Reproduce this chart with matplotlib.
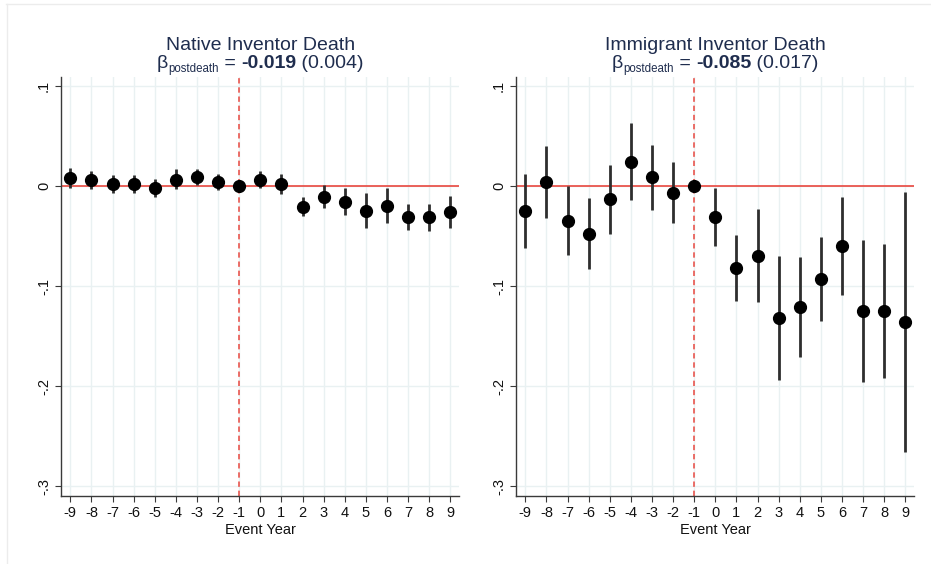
import matplotlib
matplotlib.use("Agg")
import matplotlib.pyplot as plt
from matplotlib.lines import Line2D

plt.rcParams['font.family'] = ['Liberation Sans', 'DejaVu Sans']

event_years = [-9, -8, -7, -6, -5, -4, -3, -2, -1, 0, 1, 2, 3, 4, 5, 6, 7, 8, 9]
xtick_labels = [str(v) for v in event_years]
ytick_values = [0.1, 0, -0.1, -0.2, -0.3]
ytick_labels = ['.1', '0', '-.1', '-.2', '-.3']

# Native inventors: point estimates and 95% CI bounds
native_coef = [0.0083, 0.0060, 0.0020, 0.0020, -0.0023, 0.0063, 0.0090, 0.0037, 0.0,
               0.0063, 0.0020, -0.0207, -0.0110, -0.0157, -0.0247, -0.0200, -0.0313, -0.0313, -0.0257]
native_hi = [0.0177, 0.0153, 0.0110, 0.0110, 0.0067, 0.0167, 0.0173, 0.0117, 0.0,
             0.0147, 0.0120, -0.0107, 0.0007, -0.0023, -0.0073, -0.0023, -0.0183, -0.0177, -0.0100]
native_lo = [-0.0017, -0.0033, -0.0073, -0.0073, -0.0107, -0.0033, 0.0007, -0.0040, 0.0,
             -0.0017, -0.0080, -0.0300, -0.0223, -0.0290, -0.0423, -0.0373, -0.0440, -0.0447, -0.0423]

# Immigrant inventors: point estimates and 95% CI bounds
immig_coef = [-0.0247, 0.0043, -0.0347, -0.0480, -0.0133, 0.0243, 0.0087, -0.0067, 0.0,
              -0.0310, -0.0823, -0.0697, -0.1323, -0.1213, -0.0930, -0.0597, -0.1250, -0.1247, -0.1357]
immig_hi = [0.0120, 0.0400, 0.0000, -0.0123, 0.0210, 0.0627, 0.0410, 0.0240, 0.0,
            -0.0023, -0.0490, -0.0230, -0.0700, -0.0713, -0.0507, -0.0107, -0.0540, -0.0580, -0.0057]
immig_lo = [-0.0617, -0.0317, -0.0690, -0.0833, -0.0480, -0.0140, -0.0240, -0.0373, 0.0,
            -0.0600, -0.1153, -0.1163, -0.1943, -0.1713, -0.1350, -0.1090, -0.1957, -0.1920, -0.2663]

panel_titles = ['Native Inventor Death', 'Immigrant Inventor Death']
beta_values = ['-0.019', '-0.085']
beta_ses = ['(0.004)', '(0.017)']

TITLE_COLOR = '#1f2d4e'
GRID_COLOR = '#e9f1f2'
RED = '#e8473f'
TITLE_SIZE = 14

W, H = 931, 564
fig = plt.figure(figsize=(W / 100, H / 100), dpi=100)
fig.patch.set_facecolor('white')

# faint frame lines along top and left
fig.add_artist(Line2D([6 / W, 1.0], [1 - 3.5 / H, 1 - 3.5 / H], transform=fig.transFigure,
                      color='#ececec', lw=1.0))
fig.add_artist(Line2D([6.5 / W, 6.5 / W], [0, 1 - 3.5 / H], transform=fig.transFigure,
                      color='#ececec', lw=1.0))

ax_bottom = (H - 495.7) / H
ax_height = (495.7 - 77) / H
ax_width = 398 / W
lefts = [61.3 / W, 516.3 / W]

datasets = [(native_coef, native_lo, native_hi), (immig_coef, immig_lo, immig_hi)]

renderer = fig.canvas.get_renderer()


def draw_beta_line(ax, beta, se):
    # Build "β_postdeath = <bold beta> (se)" from pieces, centred over the axes
    parts = [
        ('β', dict(fontsize=TITLE_SIZE), 0.0),
        ('postdeath', dict(fontsize=8.3), -4.5),
        (' = ', dict(fontsize=TITLE_SIZE), 0.0),
        (beta, dict(fontsize=TITLE_SIZE, fontweight='bold'), 0.0),
        (' ' + se, dict(fontsize=TITLE_SIZE), 0.0),
    ]
    texts = []
    widths = []
    for s, kw, dy in parts:
        t = fig.text(0, 0, s, color=TITLE_COLOR, va='baseline', ha='left', **kw)
        bb = t.get_window_extent(renderer)
        texts.append((t, dy))
        widths.append(bb.width)
    total = sum(widths)
    bb_ax = ax.get_window_extent(renderer)
    cx = bb_ax.x0 + bb_ax.width / 2
    x = cx - total / 2
    base_y = H - 67.5
    for (t, dy), w in zip(texts, widths):
        t.set_position((x / W, (base_y + dy) / H))
        x += w


for i, (coef, lo, hi) in enumerate(datasets):
    ax = fig.add_axes([lefts[i], ax_bottom, ax_width, ax_height])
    ax.set_facecolor('white')
    ax.set_xlim(-9.43, 9.43)
    ax.set_ylim(-0.3097, 0.109)

    ax.set_xticks(event_years)
    ax.set_xticklabels(xtick_labels)
    ax.set_yticks(ytick_values)
    ax.set_yticklabels(ytick_labels, rotation=90, va='center')

    ax.grid(True, color=GRID_COLOR, lw=1.0, zorder=0)
    ax.set_axisbelow(True)

    for side in ('top', 'right'):
        ax.spines[side].set_visible(False)
    for side in ('left', 'bottom'):
        ax.spines[side].set_color('#3a3a3a')
        ax.spines[side].set_linewidth(1.0)

    ax.tick_params(axis='both', direction='out', length=4, width=0.8, color='#3a3a3a',
                   labelsize=10.5, labelcolor='#111111', pad=3.5)

    ax.axhline(0, color=RED, lw=1.2, zorder=2)
    ax.axvline(-1, color=RED, lw=1.1, ls=(0, (3.5, 2.5)), zorder=2)

    ax.vlines(event_years, lo, hi, color='#2e2e2e', lw=2.0, zorder=3)
    ax.plot(event_years, coef, 'o', color='black', ms=8.5, zorder=4)

    ax.set_xlabel('Event Year', fontsize=10.5, color='#111111', labelpad=2)

    bb = ax.get_window_extent(renderer)
    fig.text((bb.x0 + bb.width / 2) / W, (H - 50.5) / H, panel_titles[i], color=TITLE_COLOR,
             fontsize=TITLE_SIZE, ha='center', va='baseline')
    draw_beta_line(ax, beta_values[i], beta_ses[i])

fig.savefig('out.png', dpi=100, facecolor='white')
